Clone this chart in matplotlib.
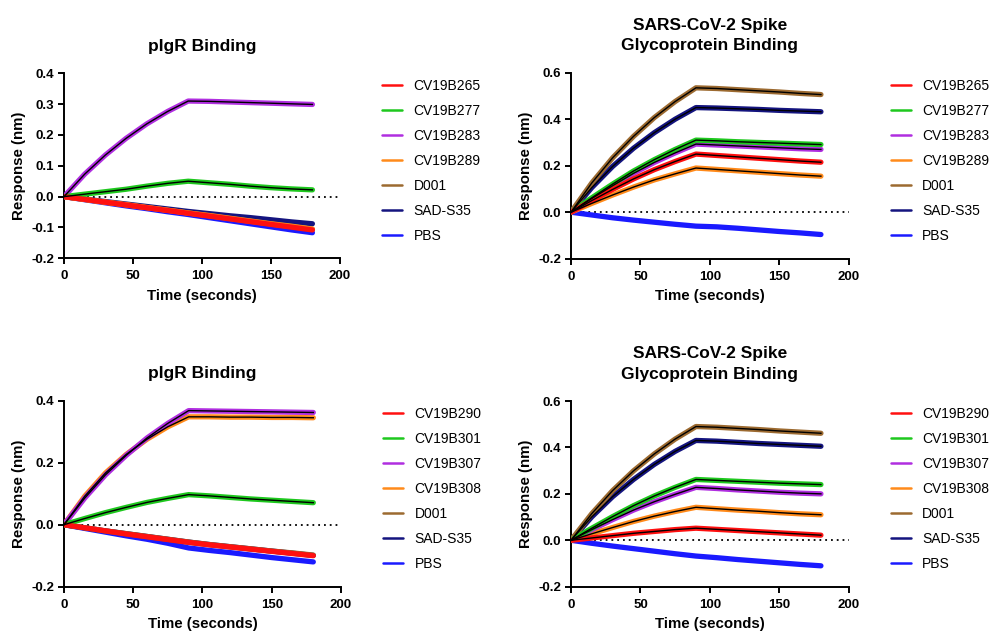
import matplotlib
matplotlib.use('Agg')
import matplotlib.pyplot as plt
from matplotlib.ticker import FormatStrFormatter

plt.rcParams['font.family'] = ['Liberation Sans', 'DejaVu Sans']
plt.rcParams['axes.unicode_minus'] = False

t = [0, 15, 30, 45, 60, 75, 90, 105, 120, 135, 150, 165, 180]

colors = {'265': '#FF1010', '277': '#1EC81E', '283': '#B02EE0', '289': '#FF8A1A',
          'D001': '#9C6A30', 'SAD': '#14147F', 'PBS': '#1A1AFF'}

# top-left: pIgR binding, first antibody set
tl_names = ['CV19B265', 'CV19B277', 'CV19B283', 'CV19B289', 'D001', 'SAD-S35', 'PBS']
tl_265 = [0, -0.009, -0.018, -0.027, -0.036, -0.045, -0.054, -0.063, -0.072, -0.081, -0.090, -0.099, -0.108]
tl_277 = [0, 0.008, 0.016, 0.024, 0.034, 0.043, 0.050, 0.045, 0.040, 0.034, 0.029, 0.025, 0.022]
tl_283 = [0, 0.073, 0.135, 0.189, 0.236, 0.276, 0.310, 0.309, 0.307, 0.305, 0.303, 0.301, 0.299]
tl_289 = [0, -0.009, -0.018, -0.026, -0.035, -0.044, -0.053, -0.061, -0.070, -0.079, -0.088, -0.096, -0.105]
tl_d001 = [0, -0.009, -0.018, -0.027, -0.036, -0.044, -0.053, -0.062, -0.071, -0.080, -0.089, -0.097, -0.106]
tl_sad = [0, -0.008, -0.016, -0.024, -0.032, -0.040, -0.048, -0.055, -0.062, -0.068, -0.075, -0.082, -0.088]
tl_pbs = [0, -0.010, -0.020, -0.030, -0.039, -0.049, -0.058, -0.068, -0.078, -0.088, -0.098, -0.108, -0.117]

# top-right: spike binding, first antibody set
tr_265 = [0, 0.050, 0.098, 0.143, 0.183, 0.218, 0.250, 0.244, 0.238, 0.232, 0.226, 0.220, 0.215]
tr_277 = [0, 0.062, 0.121, 0.177, 0.226, 0.270, 0.310, 0.307, 0.303, 0.300, 0.297, 0.294, 0.291]
tr_283 = [0, 0.059, 0.114, 0.167, 0.214, 0.255, 0.293, 0.289, 0.285, 0.281, 0.277, 0.273, 0.270]
tr_289 = [0, 0.038, 0.074, 0.108, 0.139, 0.165, 0.190, 0.184, 0.178, 0.172, 0.166, 0.160, 0.155]
tr_d001 = [0, 0.126, 0.234, 0.326, 0.407, 0.476, 0.535, 0.532, 0.527, 0.522, 0.517, 0.511, 0.506]
tr_sad = [0, 0.106, 0.197, 0.275, 0.342, 0.400, 0.450, 0.448, 0.445, 0.442, 0.438, 0.435, 0.432]
tr_pbs = [0, -0.012, -0.024, -0.034, -0.043, -0.052, -0.060, -0.063, -0.069, -0.076, -0.083, -0.089, -0.096]

# bottom-left: pIgR binding, second antibody set
bl_names = ['CV19B290', 'CV19B301', 'CV19B307', 'CV19B308', 'D001', 'SAD-S35', 'PBS']
bl_290 = [0, -0.010, -0.020, -0.030, -0.039, -0.048, -0.057, -0.065, -0.072, -0.079, -0.086, -0.093, -0.100]
bl_301 = [0, 0.020, 0.039, 0.056, 0.072, 0.085, 0.097, 0.093, 0.088, 0.083, 0.079, 0.075, 0.071]
bl_307 = [0, 0.086, 0.161, 0.224, 0.280, 0.327, 0.368, 0.367, 0.366, 0.365, 0.364, 0.363, 0.362]
bl_308 = [0, 0.092, 0.167, 0.227, 0.276, 0.316, 0.348, 0.348, 0.347, 0.347, 0.346, 0.346, 0.345]
bl_d001 = [0, -0.010, -0.020, -0.029, -0.038, -0.047, -0.056, -0.064, -0.071, -0.078, -0.085, -0.091, -0.098]
bl_sad = [0, -0.010, -0.020, -0.029, -0.038, -0.047, -0.056, -0.064, -0.071, -0.078, -0.085, -0.092, -0.099]
bl_pbs = [0, -0.012, -0.024, -0.036, -0.047, -0.060, -0.075, -0.083, -0.090, -0.098, -0.106, -0.113, -0.120]

# bottom-right: spike binding, second antibody set
br_290 = [0, 0.010, 0.020, 0.030, 0.038, 0.046, 0.052, 0.047, 0.042, 0.037, 0.032, 0.027, 0.022]
br_301 = [0, 0.052, 0.102, 0.149, 0.191, 0.228, 0.262, 0.258, 0.254, 0.250, 0.246, 0.243, 0.240]
br_307 = [0, 0.046, 0.089, 0.130, 0.166, 0.198, 0.228, 0.223, 0.217, 0.212, 0.207, 0.203, 0.200]
br_308 = [0, 0.028, 0.055, 0.081, 0.104, 0.124, 0.142, 0.136, 0.130, 0.125, 0.119, 0.114, 0.110]
br_d001 = [0, 0.115, 0.214, 0.299, 0.372, 0.436, 0.490, 0.487, 0.482, 0.477, 0.471, 0.466, 0.461]
br_sad = [0, 0.101, 0.188, 0.262, 0.327, 0.383, 0.430, 0.427, 0.422, 0.417, 0.413, 0.409, 0.405]
br_pbs = [0, -0.013, -0.025, -0.036, -0.047, -0.058, -0.068, -0.075, -0.083, -0.090, -0.097, -0.104, -0.110]

ckeys = ['265', '277', '283', '289', 'D001', 'SAD', 'PBS']

panels = [
    # rect (px), title, ylim, yticks, names, series, which ones get a fit
    ([64, 73.3, 340, 258.3], 'pIgR Binding', (-0.2, 0.4), [-0.2, -0.1, 0.0, 0.1, 0.2, 0.3, 0.4],
     tl_names, [tl_265, tl_277, tl_283, tl_289, tl_d001, tl_sad, tl_pbs], [1, 2]),
    ([571, 72.7, 848.7, 258.7], 'SARS-CoV-2 Spike\nGlycoprotein Binding', (-0.2, 0.6), [-0.2, 0.0, 0.2, 0.4, 0.6],
     tl_names, [tr_265, tr_277, tr_283, tr_289, tr_d001, tr_sad, tr_pbs], [0, 1, 2, 3, 4, 5]),
    ([64, 400.7, 341, 586.7], 'pIgR Binding', (-0.2, 0.4), [-0.2, 0.0, 0.2, 0.4],
     bl_names, [bl_290, bl_301, bl_307, bl_308, bl_d001, bl_sad, bl_pbs], [1, 2, 3]),
    ([571, 401, 848.7, 586.7], 'SARS-CoV-2 Spike\nGlycoprotein Binding', (-0.2, 0.6), [-0.2, 0.0, 0.2, 0.4, 0.6],
     bl_names, [br_290, br_301, br_307, br_308, br_d001, br_sad, br_pbs], [0, 1, 2, 3, 4, 5]),
]

W, H = 995, 635
fig = plt.figure(figsize=(W / 100, H / 100), dpi=100)

for rect, title, ylim, yticks, names, series, fits in panels:
    x0, y0, x1, y1 = rect
    ax = fig.add_axes([x0 / W, 1 - y1 / H, (x1 - x0) / W, (y1 - y0) / H])
    handles = []
    for i in range(len(series)):
        h, = ax.plot(t, series[i], color=colors[ckeys[i]], lw=3.8, solid_capstyle='round',
                     zorder=3 + (len(series) - i) * 0.1, label=names[i])
        handles.append(h)
    for i in fits:
        ax.plot(t, series[i], color='black', lw=1.0, zorder=5)
    ax.axhline(0, color='black', ls=(0, (1, 2.2)), lw=1.3, zorder=2)
    ax.set_xlim(0, 200)
    ax.set_ylim(*ylim)
    ax.set_xticks([0, 50, 100, 150, 200])
    ax.set_yticks(yticks)
    ax.yaxis.set_major_formatter(FormatStrFormatter('%.1f'))
    for s in ['top', 'right']:
        ax.spines[s].set_visible(False)
    for s in ['left', 'bottom']:
        ax.spines[s].set_linewidth(1.4)
    ax.tick_params(width=1.4, length=4, labelsize=9.5)
    ax.tick_params(axis='x', pad=4.5)
    ax.tick_params(axis='y', pad=3)
    for lab in ax.get_xticklabels() + ax.get_yticklabels():
        lab.set_fontweight('bold')
    ax.set_xlabel('Time (seconds)', fontsize=10.8, fontweight='bold', labelpad=5)
    ax.set_ylabel('Response (nm)', fontsize=10.8, fontweight='bold', labelpad=4)
    ax.set_title(title, fontsize=12.5, fontweight='bold', pad=16, linespacing=1.45)
    leg = ax.legend(handles=handles, loc='upper left', bbox_to_anchor=(1.108, 1.035),
                    frameon=False, fontsize=10, handlelength=1.44, labelspacing=0.79,
                    handletextpad=0.8)
    for lh in leg.get_lines():
        lh.set_linewidth(1.8)

plt.savefig('out.png', dpi=100)
